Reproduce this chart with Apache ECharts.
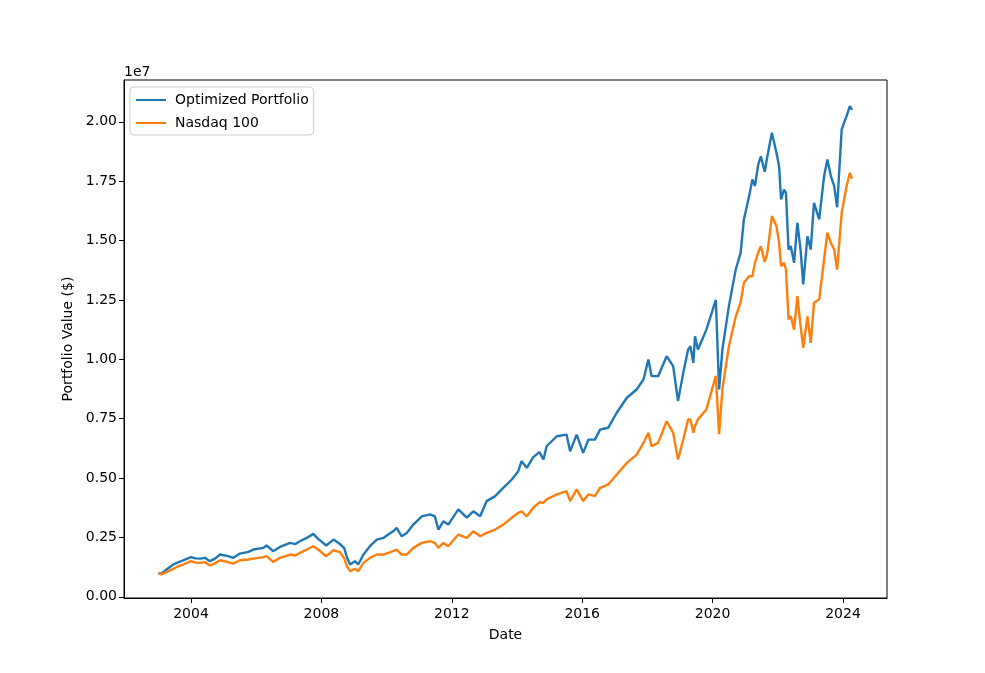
<!DOCTYPE html>
<html>
<head>
<meta charset="utf-8">
<script src="https://cdn.jsdelivr.net/npm/echarts@6/dist/echarts.min.js"></script>
<style>
html,body{margin:0;padding:0;background:#fff;}
#chart{width:985px;height:673px;}
</style>
</head>
<body>
<div id="chart"></div>
<script>
// Dates as decimal years
const dates = [
2003.00,2003.10,2003.25,2003.46,2003.60,2003.76,2004.00,2004.14,2004.28,2004.43,
2004.58,2004.75,2004.89,2005.14,2005.30,2005.50,2005.76,2005.91,2006.22,2006.32,
2006.52,2006.73,2007.04,2007.20,2007.34,2007.55,2007.75,2007.90,2008.15,2008.37,
2008.57,2008.70,2008.78,2008.88,2009.03,2009.13,2009.29,2009.49,2009.70,2009.90,
2010.05,2010.20,2010.31,2010.46,2010.62,2010.82,2011.08,2011.33,2011.48,2011.59,
2011.74,2011.89,2012.20,2012.46,2012.66,2012.87,2013.07,2013.33,2013.58,2013.84,
2014.04,2014.14,2014.30,2014.50,2014.69,2014.81,2014.91,2015.22,2015.52,2015.63,
2015.83,2016.03,2016.19,2016.39,2016.55,2016.80,2017.06,2017.37,2017.67,2017.88,
2018.03,2018.13,2018.33,2018.59,2018.79,2018.94,2019.10,2019.25,2019.32,2019.41,
2019.46,2019.55,2019.81,2020.10,2020.20,2020.30,2020.50,2020.71,2020.86,2020.96,
2021.12,2021.22,2021.30,2021.40,2021.48,2021.60,2021.68,2021.82,2021.96,2022.04,
2022.10,2022.19,2022.25,2022.33,2022.40,2022.50,2022.60,2022.70,2022.78,2022.91,
2023.01,2023.11,2023.27,2023.42,2023.52,2023.63,2023.73,2023.82,2023.96,2024.11,
2024.21,2024.28
];
// Optimized Portfolio value, $ millions
const optimized = [
1.00,0.97,1.15,1.36,1.45,1.53,1.67,1.62,1.61,1.64,
1.50,1.62,1.78,1.71,1.64,1.82,1.89,1.99,2.06,2.16,
1.92,2.10,2.27,2.22,2.34,2.48,2.65,2.44,2.16,2.41,
2.22,2.05,1.68,1.36,1.50,1.36,1.78,2.13,2.41,2.48,
2.62,2.76,2.90,2.55,2.69,3.04,3.39,3.47,3.39,2.83,
3.18,3.04,3.68,3.33,3.60,3.39,4.03,4.24,4.59,4.94,
5.29,5.71,5.43,5.88,6.09,5.78,6.34,6.76,6.83,6.13,
6.83,6.06,6.62,6.62,7.04,7.12,7.75,8.38,8.73,9.15,
9.99,9.29,9.29,10.13,9.71,8.24,9.43,10.41,10.55,9.85,
10.97,10.41,11.25,12.50,8.73,10.41,12.24,13.78,14.48,15.89,
16.87,17.57,17.30,18.20,18.55,17.90,18.55,19.54,18.69,18.13,
16.73,17.15,17.01,14.62,14.76,14.06,15.75,14.60,13.15,15.18,
14.62,16.59,15.89,17.71,18.41,17.71,17.29,16.40,19.68,20.24,
20.66,20.50
];
// Nasdaq 100 value, $ millions
const nasdaq = [
1.00,0.94,1.05,1.18,1.28,1.36,1.50,1.44,1.43,1.46,
1.32,1.42,1.54,1.46,1.40,1.54,1.57,1.61,1.67,1.71,
1.47,1.64,1.78,1.74,1.85,1.99,2.13,1.99,1.71,1.96,
1.88,1.62,1.29,1.08,1.18,1.08,1.43,1.64,1.78,1.78,
1.85,1.92,1.99,1.78,1.78,2.06,2.27,2.34,2.27,2.06,
2.27,2.13,2.62,2.48,2.76,2.55,2.69,2.83,3.04,3.33,
3.54,3.60,3.39,3.75,3.98,3.96,4.10,4.31,4.45,4.03,
4.52,4.03,4.31,4.24,4.59,4.73,5.15,5.64,5.99,6.48,
6.91,6.34,6.48,7.39,6.91,5.78,6.62,7.47,7.47,6.91,
7.18,7.47,7.89,9.30,6.85,8.73,10.55,11.80,12.40,13.22,
13.50,13.50,14.06,14.50,14.76,14.10,14.48,16.03,15.60,14.90,
13.92,14.06,13.78,11.68,11.81,11.25,12.66,11.40,10.48,11.81,
10.69,12.38,12.52,14.20,15.33,14.90,14.62,13.78,16.17,17.29,
17.85,17.60
];
const yTicks = [0, 0.25, 0.5, 0.75, 1.0, 1.25, 1.5, 1.75, 2.0];
const xTicks = [2004, 2008, 2012, 2016, 2020, 2024];

const chart = echarts.init(document.getElementById('chart'), null, {renderer: 'canvas'});
const font = 'DejaVu Sans';
const toPairs = vals => dates.map((d, i) => [d, vals[i] * 1e6]);

chart.setOption({
  animation: false,
  backgroundColor: '#ffffff',
  textStyle: {fontFamily: font},
  grid: {left: 124, right: 98, top: 80, bottom: 75, show: true, borderColor: '#000', borderWidth: 1, backgroundColor: 'transparent'},
  legend: {
    left: 130, top: 87, orient: 'vertical',
    backgroundColor: '#fff', borderColor: '#d0d0d0', borderWidth: 1, borderRadius: 4,
    padding: [6, 5, 5, 6], itemGap: 9, itemWidth: 30, itemHeight: 2,
    icon: 'rect',
    textStyle: {fontFamily: font, fontSize: 14, color: '#000', padding: [0, 0, 0, 4]},
    data: ['Optimized Portfolio', 'Nasdaq 100']
  },
  graphic: [{type: 'text', left: 124, top: 65, style: {text: '1e7', fontFamily: font, fontSize: 14, fill: '#000'}}],
  xAxis: {
    type: 'value', min: 2001.945, max: 2025.35,
    name: 'Date', nameLocation: 'middle', nameGap: 30,
    nameTextStyle: {fontFamily: font, fontSize: 14, color: '#000'},
    axisLine: {show: true, onZero: false, lineStyle: {color: '#000', width: 1}},
    axisTick: {show: true, length: 5, inside: false, customValues: xTicks, lineStyle: {color: '#000'}},
    axisLabel: {customValues: xTicks, fontFamily: font, fontSize: 14, color: '#000', margin: 9, formatter: v => String(Math.round(v))},
    splitLine: {show: false}
  },
  yAxis: {
    type: 'value', min: -50000, max: 21760000,
    name: 'Portfolio Value ($)', nameLocation: 'middle', nameGap: 48, nameRotate: 90,
    nameTextStyle: {fontFamily: font, fontSize: 14, color: '#000'},
    axisLine: {show: true, onZero: false, lineStyle: {color: '#000', width: 1}},
    axisTick: {show: true, length: 5, inside: false, customValues: yTicks.map(v => v * 1e7), lineStyle: {color: '#000'}},
    axisLabel: {customValues: yTicks.map(v => v * 1e7), fontFamily: font, fontSize: 14, color: '#000', margin: 7, formatter: v => (v / 1e7).toFixed(2)},
    splitLine: {show: false}
  },
  series: [
    {name: 'Optimized Portfolio', type: 'line', data: toPairs(optimized), showSymbol: false, symbol: 'none',
     itemStyle: {color: '#1f77b4'}, lineStyle: {color: '#1f77b4', width: 2.4}},
    {name: 'Nasdaq 100', type: 'line', data: toPairs(nasdaq), showSymbol: false, symbol: 'none',
     itemStyle: {color: '#ff7f0e'}, lineStyle: {color: '#ff7f0e', width: 2.4}}
  ]
});
</script>
</body>
</html>
